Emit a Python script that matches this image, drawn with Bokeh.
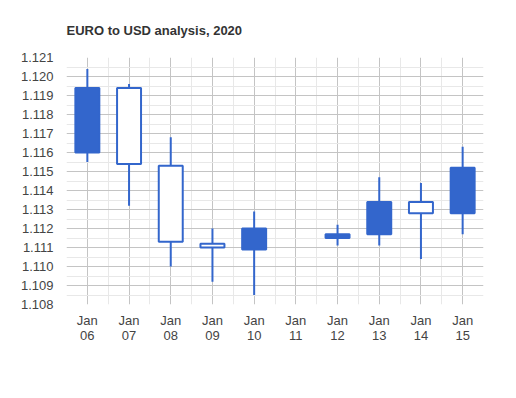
from bokeh.plotting import figure
from bokeh.models import ColumnDataSource, FixedTicker, Range1d, PrintfTickFormatter
from bokeh.embed import file_html
from bokeh.resources import INLINE

nan = float("nan")

# ---- data ----
dates = ["Jan\n06", "Jan\n07", "Jan\n08", "Jan\n09", "Jan\n10",
         "Jan\n11", "Jan\n12", "Jan\n13", "Jan\n14", "Jan\n15"]
opens = [1.1194, 1.1154, 1.1113, 1.1110, 1.1120, nan, 1.1117, 1.1134, 1.1128, 1.1152]
closes = [1.1160, 1.1194, 1.1153, 1.1112, 1.1109, nan, 1.1115, 1.1117, 1.1134, 1.1128]
highs = [1.1204, 1.1196, 1.1168, 1.1120, 1.1129, nan, 1.1122, 1.1147, 1.1144, 1.1163]
lows = [1.1155, 1.1132, 1.1100, 1.1092, 1.1085, nan, 1.1111, 1.1111, 1.1104, 1.1117]
y_ticks = [1.108, 1.109, 1.110, 1.111, 1.112, 1.113, 1.114,
           1.115, 1.116, 1.117, 1.118, 1.119, 1.120, 1.121]

COLOR = "#3366CC"
FONT = "Liberation Sans"

xs = list(range(len(dates)))
tops = [max(o, c) for o, c in zip(opens, closes)]
bottoms = [min(o, c) for o, c in zip(opens, closes)]
fills = [COLOR if o > c else "#ffffff" for o, c in zip(opens, closes)]

src = ColumnDataSource(dict(x=xs, open=opens, close=closes, high=highs, low=lows,
                            top=tops, bottom=bottoms, fill=fills))

p = figure(width=510, height=392, output_backend="svg", toolbar_location=None,
           x_range=Range1d(-0.5, len(dates) - 0.5),
           y_range=Range1d(y_ticks[0], y_ticks[-1]),
           min_border_left=66, min_border_right=27, min_border_top=57, min_border_bottom=88)

p.outline_line_color = None
p.background_fill_color = "#ffffff"
p.border_fill_color = "#ffffff"

p.title.text = "EURO to USD analysis, 2020"
p.title.align = "left"
p.title.text_font = FONT
p.title.text_font_size = "13px"
p.title.text_font_style = "bold"
p.title.text_color = "#333333"
p.title.standoff = 40

# ticks
half = [(a + b) / 2 for a, b in zip(y_ticks[:-1], y_ticks[1:])]
p.yaxis.ticker = FixedTicker(ticks=y_ticks, minor_ticks=half)
p.yaxis.formatter = PrintfTickFormatter(format="%.3f")
p.xaxis.ticker = FixedTicker(ticks=xs, minor_ticks=[i - 0.5 for i in range(len(dates) + 1)])
p.xaxis.major_label_overrides = {i: d for i, d in enumerate(dates)}

for ax in (p.xaxis[0], p.yaxis[0]):
    ax.axis_line_color = None
    ax.major_tick_line_color = None
    ax.minor_tick_line_color = None
    ax.major_tick_out = 0
    ax.minor_tick_out = 0
    ax.major_label_text_font = FONT
    ax.major_label_text_font_size = "13px"
    ax.major_label_text_color = "#444444"
p.yaxis.major_label_standoff = 13
p.xaxis.major_label_standoff = 8
p.xaxis.major_label_text_line_height = 1.05

p.xgrid.grid_line_color = "#c4c4c4"
p.ygrid.grid_line_color = "#c4c4c4"
p.xgrid.minor_grid_line_color = "#e8e8e8"
p.ygrid.minor_grid_line_color = "#e8e8e8"

p.segment(x0="x", y0="low", x1="x", y1="high", source=src, line_color=COLOR, line_width=2)
p.vbar(x="x", width=0.575, top="top", bottom="bottom", source=src,
       fill_color="fill", line_color=COLOR, line_width=2)

open("out.html", "w").write(file_html(p, INLINE))
